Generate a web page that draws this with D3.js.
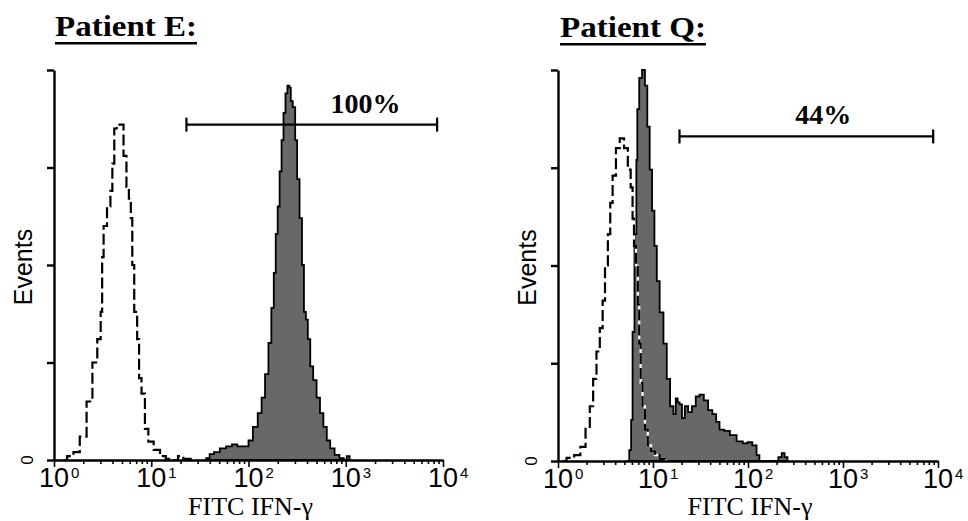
<!DOCTYPE html>
<html>
<head>
<meta charset="utf-8">
<script src="https://cdn.jsdelivr.net/npm/d3@7"></script>
<style>
  html, body { margin: 0; padding: 0; background: #fff; }
  svg { display: block; }
</style>
</head>
<body>
<div id="chart"></div>
<script>
// Two flow-cytometry histograms (FITC IFN-γ), patient E and patient Q.
// Points are [log10 fluorescence, events as % of y-axis]

const decades = [0, 1, 2, 3, 4];
const yTicks = [0, 25, 50, 75, 100];

const titles = ['Patient E:', 'Patient Q:'];
const gateLabels = ['100%', '44%'];
const gateRanges = [[23, 8700], [19, 8900]];   // fluorescence
const gateLevels = [86, 83];                    // events %
const gateLabelAt = [1600, 620];                // fluorescence at label centre

const isoE = [
  [0.10, 0], [0.17, 1], [0.23, 2], [0.30, 6], [0.37, 15], [0.42, 25], [0.47, 31],
  [0.49, 38], [0.50, 52], [0.52, 60], [0.57, 65], [0.59, 69], [0.61, 76], [0.63, 85],
  [0.66, 86], [0.70, 86], [0.73, 78], [0.76, 70], [0.78, 67], [0.80, 62], [0.81, 50],
  [0.84, 38], [0.87, 31], [0.88, 21], [0.92, 17], [0.95, 8], [0.99, 4.7], [1.06, 2.6],
  [1.12, 1], [1.18, 0.3], [1.25, 0], [1.30, 1], [1.36, 0.3], [1.45, 0]
];

const fillE = [
  [1.55, 0], [1.58, 0.5], [1.62, 1.5], [1.67, 2], [1.74, 3], [1.80, 3.5], [1.86, 4],
  [1.91, 3.5], [1.98, 3.5], [2.02, 5], [2.07, 8.5], [2.12, 12], [2.15, 16], [2.19, 22],
  [2.22, 30], [2.25, 39], [2.27, 48], [2.29, 58], [2.31, 65], [2.33, 74], [2.35, 82],
  [2.37, 89], [2.39, 94], [2.41, 96], [2.43, 95.5], [2.44, 92], [2.47, 90.5], [2.49, 82],
  [2.51, 72], [2.54, 62], [2.56, 50], [2.58, 38], [2.60, 36], [2.62, 31], [2.65, 24],
  [2.68, 20.5], [2.72, 16], [2.75, 12], [2.79, 8.5], [2.82, 5], [2.86, 3], [2.91, 1.3],
  [2.96, 0.5], [3.00, 0], [3.02, 1], [3.06, 0]
];

const isoQ = [
  [0.05, 0], [0.13, 0.8], [0.21, 1.5], [0.26, 3.6], [0.32, 8.7], [0.35, 14], [0.39, 21],
  [0.42, 28], [0.46, 34], [0.48, 41], [0.51, 50], [0.54, 58], [0.56, 66], [0.59, 73],
  [0.63, 80], [0.67, 82.5], [0.72, 80], [0.75, 74.5], [0.78, 70], [0.79, 62], [0.81, 55],
  [0.83, 50], [0.85, 40], [0.86, 30], [0.88, 20], [0.90, 14], [0.93, 8], [0.96, 4],
  [1.00, 2.5], [1.04, 1.5], [1.10, 0.5], [1.16, 0]
];

const fillQ = [
  [0.72, 0], [0.74, 0], [0.76, 2.8], [0.78, 10.5], [0.79, 33], [0.82, 58], [0.83, 77],
  [0.84, 90], [0.87, 98], [0.90, 100], [0.93, 96], [0.95, 85.5], [0.98, 74.5], [1.00, 64],
  [1.03, 55], [1.05, 46], [1.09, 38], [1.13, 30], [1.16, 21], [1.20, 14], [1.23, 12],
  [1.25, 16], [1.27, 15], [1.29, 14.5], [1.32, 11], [1.35, 14], [1.39, 12.5], [1.43, 14],
  [1.47, 16.5], [1.51, 17], [1.56, 15.5], [1.60, 13], [1.65, 12], [1.68, 10], [1.72, 8],
  [1.78, 7.7], [1.84, 6.6], [1.92, 5], [1.97, 4.5], [2.02, 4.8], [2.07, 4], [2.11, 1.5],
  [2.13, 0], [2.30, 0], [2.34, 1], [2.37, 2], [2.40, 1], [2.43, 0]
];

const W = 968, H = 521;
const SANS = '"Liberation Sans", Arial, sans-serif';
const SERIF = '"Liberation Serif", "Times New Roman", serif';

const svg = d3.select('#chart').append('svg')
  .attr('width', W).attr('height', H)
  .style('background', '#fff');

const panels = [
  { xr: [54, 443], yr: [460, 70], title: [55, 36, 142], iso: isoE, fill: fillE },
  { xr: [558, 938], yr: [461, 70], title: [560, 37, 146], iso: isoQ, fill: fillQ }
];

panels.forEach((p, i) => {
  const g = svg.append('g');
  const x = d3.scaleLog().domain([1, 1e4]).range(p.xr);
  const y = d3.scaleLinear().domain([0, 100]).range(p.yr);
  const px = (d) => x(Math.pow(10, d[0]));

  // filled histogram
  g.append('path')
    .datum(p.fill)
    .attr('d', d3.area().x(px).y0(y(0)).y1((d) => y(d[1])).curve(d3.curveStep))
    .attr('fill', '#686868')
    .attr('stroke', '#000')
    .attr('stroke-width', 1.8);

  // isotype control, dashed (white under-stroke shows in the gaps)
  const line = d3.line().x(px).y((d) => y(d[1])).curve(d3.curveStep);
  g.append('path').datum(p.iso).attr('d', line)
    .attr('fill', 'none').attr('stroke', '#fff').attr('stroke-width', 2.2);
  g.append('path').datum(p.iso).attr('d', line)
    .attr('fill', 'none').attr('stroke', '#000').attr('stroke-width', 2.2)
    .attr('stroke-dasharray', '11,4');

  // axes
  const yAxis = g.append('g')
    .attr('transform', `translate(${p.xr[0]},0)`)
    .call(d3.axisLeft(y).tickValues(yTicks).tickSize(7).tickSizeOuter(0).tickFormat(''));
  yAxis.selectAll('path, line').attr('stroke', '#000').attr('stroke-width', 2.4);

  const xAxis = g.append('g')
    .attr('transform', `translate(0,${p.yr[0]})`)
    .call(d3.axisBottom(x).tickValues(x.ticks()).tickSize(4).tickSizeOuter(0).tickFormat(''));
  xAxis.select('.domain').attr('stroke', '#000').attr('stroke-width', 2.4);
  xAxis.selectAll('.tick line')
    .attr('stroke', '#000')
    .attr('stroke-width', 1.6)
    .attr('y2', (d) => (Math.abs(Math.log10(d) - Math.round(Math.log10(d))) < 1e-9 ? 7 : 4));

  // decade labels 10^n
  decades.forEach((e) => {
    const cx = x(Math.pow(10, e));
    g.append('text')
      .attr('x', cx).attr('y', p.yr[0] + 27)
      .attr('text-anchor', 'middle')
      .attr('font-family', SANS).attr('font-size', 27)
      .text('10');
    g.append('text')
      .attr('x', cx + 17).attr('y', p.yr[0] + 18)
      .attr('font-family', SANS).attr('font-size', 15)
      .text(String(e));
  });

  // y labels
  g.append('text')
    .attr('transform', `translate(${p.xr[0] - 21},${p.yr[0]}) rotate(-90)`)
    .attr('text-anchor', 'middle')
    .attr('font-family', SANS).attr('font-size', 17)
    .text('0');
  g.append('text')
    .attr('transform', `translate(${p.xr[0] - 22},${(p.yr[0] + p.yr[1]) / 2 + 2}) rotate(-90)`)
    .attr('text-anchor', 'middle')
    .attr('font-family', SANS).attr('font-size', 25)
    .text('Events');

  // x label
  g.append('text')
    .attr('x', (p.xr[0] + p.xr[1]) / 2 + 2).attr('y', 515)
    .attr('text-anchor', 'middle')
    .attr('font-family', SERIF).attr('font-size', 26)
    .text('FITC IFN-γ');

  // title, underlined
  const [tx, ty, tw] = p.title;
  g.append('text')
    .attr('x', tx).attr('y', ty)
    .attr('font-family', SERIF).attr('font-size', 30).attr('font-weight', 700)
    .attr('textLength', tw).attr('lengthAdjust', 'spacingAndGlyphs')
    .text(titles[i]);
  g.append('rect')
    .attr('x', tx).attr('y', ty + 6).attr('width', tw).attr('height', 2.5)
    .attr('fill', '#000');

  // gate marker
  const gy = y(gateLevels[i]);
  const gx0 = x(gateRanges[i][0]), gx1 = x(gateRanges[i][1]);
  const gate = g.append('g').attr('stroke', '#000').attr('stroke-width', 2.2);
  gate.append('line').attr('x1', gx0).attr('x2', gx1).attr('y1', gy).attr('y2', gy);
  [gx0, gx1].forEach((gx) => {
    gate.append('line').attr('x1', gx).attr('x2', gx).attr('y1', gy - 7).attr('y2', gy + 7);
  });
  g.append('text')
    .attr('x', x(gateLabelAt[i])).attr('y', gy - 12)
    .attr('text-anchor', 'middle')
    .attr('font-family', SERIF).attr('font-size', 28).attr('font-weight', 700)
    .text(gateLabels[i]);
});
</script>
</body>
</html>
